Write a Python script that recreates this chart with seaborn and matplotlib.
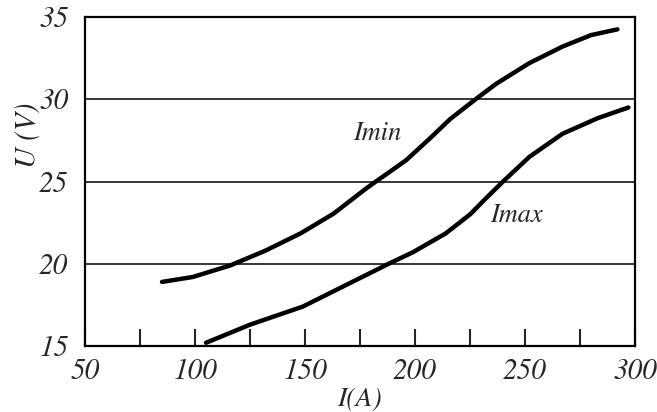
import pandas as pd
import numpy as np
import seaborn as sns
import matplotlib.pyplot as plt

# curve values
imin_i = [85, 99, 116, 132, 148, 163, 178, 196, 207, 216, 228, 237, 252, 267, 280, 292]
imin_u = [18.9, 19.2, 19.9, 20.8, 21.85, 23.05, 24.6, 26.3, 27.65, 28.8, 30.05, 30.95, 32.2, 33.2, 33.9, 34.25]
imax_i = [105, 125, 149, 170, 188, 199, 214, 225, 232, 240, 252, 267, 283, 297]
imax_u = [15.2, 16.3, 17.4, 18.8, 20.0, 20.7, 21.85, 23.0, 23.95, 25.0, 26.5, 27.9, 28.85, 29.5]

x_ticks = [50, 75, 100, 125, 150, 175, 200, 225, 250, 275, 300]
x_labels = ["50", "", "100", "", "150", "", "200", "", "250", "", "300"]
y_ticks = [15, 20, 25, 30, 35]

sns.set_style("white")
# STIX ships with matplotlib and has a real italic face
plt.rcParams['font.family'] = ['STIXGeneral', 'DejaVu Serif']
plt.rcParams['font.style'] = 'italic'

data = pd.concat([
    pd.DataFrame({'I': imin_i, 'U': imin_u, 'curve': 'Imin'}),
    pd.DataFrame({'I': imax_i, 'U': imax_u, 'curve': 'Imax'}),
])

fig = plt.figure(figsize=(6.57, 4.12), dpi=100)
ax = fig.add_axes([0.1294, 0.160, 0.8371, 0.7987])

for y in [20, 25, 30]:
    ax.axhline(y, color='black', lw=1.1, zorder=1)

sns.lineplot(data=data, x='I', y='U', units='curve', estimator=None,
             color='black', lw=3.2, ax=ax, legend=False, zorder=3,
             solid_joinstyle='round', solid_capstyle='round')

ax.text(183, 27.9, 'Imin', fontsize=19, fontstyle='italic', ha='center', va='center')
ax.text(246, 22.9, 'Imax', fontsize=19, fontstyle='italic', ha='center', va='center')

ax.set_xlim(50, 300)
ax.set_ylim(15, 35)
ax.set_xticks(x_ticks)
ax.set_xticklabels(x_labels, fontstyle='italic')
ax.set_yticks(y_ticks)
ax.set_yticklabels([str(v) for v in y_ticks], fontstyle='italic')
ax.tick_params(axis='x', direction='in', length=12, width=1.5, pad=9,
               labelsize=21, bottom=True)
ax.tick_params(axis='y', length=0, pad=12, labelsize=21)

for s in ax.spines.values():
    s.set_color('black')
    s.set_linewidth(1.6)

ax.set_xlabel('I(A)', fontsize=20, fontstyle='italic', labelpad=2)
ax.set_ylabel('U (V)', fontsize=21, fontstyle='italic')
ax.yaxis.set_label_coords(-0.078, 0.64)

fig.savefig('out.png', dpi=100)
